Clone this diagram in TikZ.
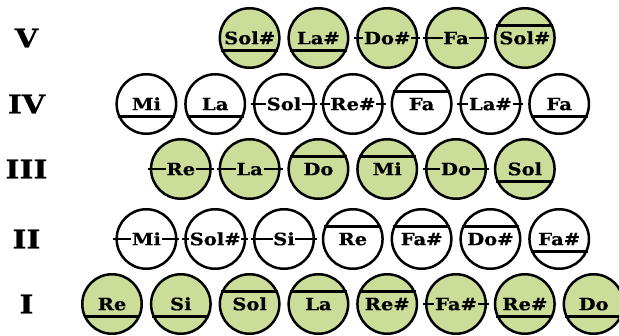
\documentclass[tikz,border=0pt]{standalone}
\usepackage{fontspec}
\setmainfont{DejaVu Serif}
\newfontfamily\keyfont{DejaVu Serif}[FakeStretch=1.15,FakeBold=0.6]
\usetikzlibrary{calc}
\definecolor{leaf}{RGB}{204,221,153}
\tikzset{
  keybtn/.style={circle, draw=black, line width=2.5pt, minimum size=59.5pt, inner sep=0pt},
  lbl/.style={font=\keyfont\bfseries\fontsize{17}{17}\selectfont, inner sep=0.5pt, text height=12.4pt, text depth=0pt},
  rowlbl/.style={font=\keyfont\bfseries\fontsize{26}{26}\selectfont, inner sep=0pt},
  bar/.style={line width=2.5pt, line cap=butt}
}
\newcommand\keylinet[1]{\draw[bar] (#1.156) -- (#1.24);}
\newcommand\keylineb[1]{\draw[bar] (#1.204) -- (#1.336);}
\newcommand\keylinem[1]{\draw[bar] ($(#1.west)+(-2,0)$) -- (#1t.west);
  \draw[bar] (#1t.east) -- ($(#1.east)+(2,0)$);}
% name, x, y, fill, label, type
\newcommand\mykey[6]{%
  \node[keybtn, fill=#4] (#1) at (#2,#3) {};
  \node[lbl] (#1t) at (#1.center) {#5};
  \csname keyline#6\endcsname{#1}}
\begin{document}
\begin{tikzpicture}[x=1pt,y=-1pt]
\useasboundingbox (0,0) rectangle (619,336);
% row labels
\node[rowlbl] (rV) at (26.5,38) {V};
\node[rowlbl] (rIV) at (26.5,104) {IV};
\node[rowlbl] (rIII) at (26.5,169) {III};
\node[rowlbl] (rII) at (26.5,239) {II};
\node[rowlbl] (rI) at (26.5,304) {I};
% row V
\mykey{v1}{249.6}{38}{leaf}{Sol\#}{b}
\mykey{v2}{318.4}{38}{leaf}{La\#}{b}
\mykey{v3}{387.2}{38}{leaf}{Do\#}{m}
\mykey{v4}{456}{38}{leaf}{Fa}{m}
\mykey{v5}{524.8}{38}{leaf}{Sol\#}{t}
% row IV
\mykey{iv1}{146.4}{104}{white}{Mi}{b}
\mykey{iv2}{215.2}{104}{white}{La}{b}
\mykey{iv3}{284}{104}{white}{Sol}{m}
\mykey{iv4}{352.8}{104}{white}{Re\#}{m}
\mykey{iv5}{421.6}{104}{white}{Fa}{t}
\mykey{iv6}{490.4}{104}{white}{La\#}{m}
\mykey{iv7}{559.2}{104}{white}{Fa}{b}
% row III
\mykey{iii1}{180.8}{169}{leaf}{Re}{m}
\mykey{iii2}{249.6}{169}{leaf}{La}{m}
\mykey{iii3}{318.4}{169}{leaf}{Do}{t}
\mykey{iii4}{387.2}{169}{leaf}{Mi}{t}
\mykey{iii5}{456}{169}{leaf}{Do}{m}
\mykey{iii6}{524.8}{169}{leaf}{Sol}{b}
% row II
\mykey{ii1}{146.4}{239}{white}{Mi}{m}
\mykey{ii2}{215.2}{239}{white}{Sol\#}{m}
\mykey{ii3}{284}{239}{white}{Si}{m}
\mykey{ii4}{352.8}{239}{white}{Re}{t}
\mykey{ii5}{421.6}{239}{white}{Fa\#}{t}
\mykey{ii6}{490.4}{239}{white}{Do\#}{t}
\mykey{ii7}{559.2}{239}{white}{Fa\#}{b}
% row I
\mykey{i1}{112}{304}{leaf}{Re}{b}
\mykey{i2}{180.8}{304}{leaf}{Si}{b}
\mykey{i3}{249.6}{304}{leaf}{Sol}{t}
\mykey{i4}{318.4}{304}{leaf}{La}{t}
\mykey{i5}{387.2}{304}{leaf}{Re\#}{t}
\mykey{i6}{456}{304}{leaf}{Fa\#}{m}
\mykey{i7}{524.8}{304}{leaf}{Re\#}{b}
\mykey{i8}{593.6}{304}{leaf}{Do}{b}
\end{tikzpicture}
\end{document}
